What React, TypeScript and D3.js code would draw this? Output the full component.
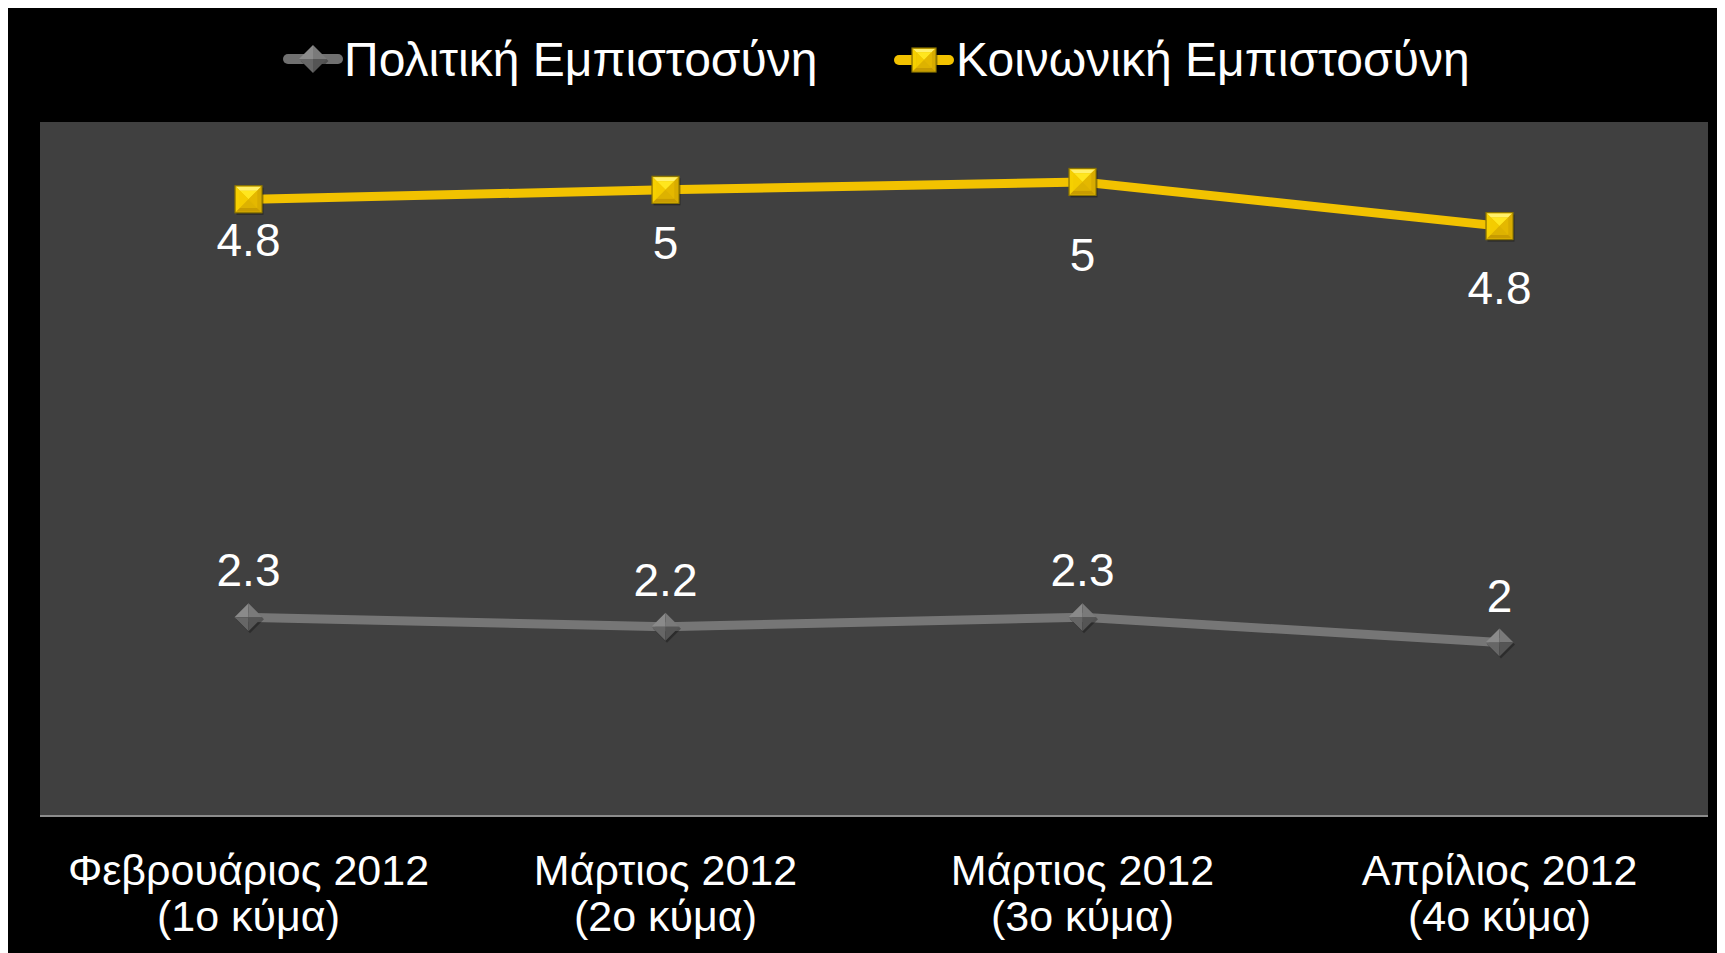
import React from "react";
import * as d3 from "d3";

const categoryMonths = ["Φεβρουάριος 2012", "Μάρτιος 2012", "Μάρτιος 2012", "Απρίλιος 2012"];
const categoryWaves = ["(1ο κύμα)", "(2ο κύμα)", "(3ο κύμα)", "(4ο κύμα)"];

const politicalName = "Πολιτική Εμπιστοσύνη";
const socialName = "Κοινωνική Εμπιστοσύνη";

const politicalValues = [2.26, 2.2, 2.26, 2.1];
const socialValues = [4.91, 4.97, 5.02, 4.74];

const politicalLabels = ["2.3", "2.2", "2.3", "2"];
const socialLabels = ["4.8", "5", "5", "4.8"];

// label placement (layout only)
const socialLabelDy = [57, 69, 89, 78];
const politicalLabelDy = [-31, -31, -31, -31];

const FONT = "'Liberation Sans', Arial, Helvetica, sans-serif";

const plot = { left: 40, right: 1708, top: 122, bottom: 816 };

function Square({ x, y, s }: { x: number; y: number; s: number }) {
  const h = s / 2;
  const i = s * 0.18;
  return (
    <g transform={`translate(${x},${y})`}>
      <rect x={-h + 1.5} y={-h + 2} width={s} height={s} fill="rgba(0,0,0,0.35)" />
      <rect x={-h} y={-h} width={s} height={s} fill="#E8BC00" stroke="#8a7400" strokeWidth={1.2} />
      <polygon points={`${-h + 1},${-h + 1} ${h - 1},${-h + 1} ${h - i},${-h + i} ${-h + i},${-h + i}`} fill="#FFF06A" />
      <polygon points={`${-h + 1},${-h + 1} ${-h + i},${-h + i} ${-h + i},${h - i} ${-h + 1},${h - 1}`} fill="#F6D000" />
      <polygon points={`${h - 1},${-h + 1} ${h - 1},${h - 1} ${h - i},${h - i} ${h - i},${-h + i}`} fill="#D8AC00" />
      <polygon points={`${-h + 1},${h - 1} ${h - 1},${h - 1} ${h - i},${h - i} ${-h + i},${h - i}`} fill="#C89C00" />
      <polygon points={`${-h + i},${-h + i} ${h - i},${-h + i} 0,0`} fill="#FFE61E" />
      <polygon points={`${-h + i},${-h + i} 0,0 ${-h + i},${h - i}`} fill="#F4CC00" />
      <polygon points={`${h - i},${-h + i} ${h - i},${h - i} 0,0`} fill="#E4B800" />
      <polygon points={`${-h + i},${h - i} ${h - i},${h - i} 0,0`} fill="#DDB200" />
    </g>
  );
}

function Diamond({ x, y, r }: { x: number; y: number; r: number }) {
  return (
    <g transform={`translate(${x},${y})`}>
      <polygon points={`1.5,${-r + 2} ${r + 1.5},2 1.5,${r + 2} ${-r + 1.5},2`} fill="rgba(0,0,0,0.3)" />
      <polygon points={`0,${-r} 0,0 ${-r},0`} fill="#8a8a8a" />
      <polygon points={`0,${-r} ${r},0 0,0`} fill="#7a7a7a" />
      <polygon points={`${-r},0 0,0 0,${r}`} fill="#666666" />
      <polygon points={`0,0 ${r},0 0,${r}`} fill="#555555" />
    </g>
  );
}

export default function App() {
  const idx = categoryMonths.map((_, i) => i);
  const x = d3.scalePoint<number>().domain(idx).range([plot.left, plot.right]).padding(0.5);
  const y = d3.scaleLinear().domain([1, 5.4]).range([plot.bottom, plot.top]);
  const line = d3
    .line<number>()
    .x((_, i) => x(i) as number)
    .y((d) => y(d));

  return (
    <svg width={1717} height={945} style={{ display: "block" }}>
      <g transform="translate(-8,-8)">
        <rect x={8} y={8} width={1717} height={945} fill="#000000" />
        <rect x={plot.left} y={plot.top} width={plot.right - plot.left} height={plot.bottom - plot.top} fill="#404040" />
        <line x1={plot.left} x2={plot.right} y1={plot.bottom} y2={plot.bottom} stroke="#8c8c8c" strokeWidth={2} />

        {/* legend */}
        <g>
          <line x1={288} x2={338} y1={59} y2={59} stroke="#707070" strokeWidth={10} strokeLinecap="round" />
          <Diamond x={313} y={59} r={14} />
          <text x={344} y={76} fill="#ffffff" fontFamily={FONT} fontSize={48}>
            {politicalName}
          </text>
          <line x1={899} x2={949} y1={60} y2={60} stroke="#F2C200" strokeWidth={10} strokeLinecap="round" />
          <Square x={924} y={60} s={24} />
          <text x={956} y={76} fill="#ffffff" fontFamily={FONT} fontSize={48}>
            {socialName}
          </text>
        </g>

        {/* series */}
        <path d={line(politicalValues) || ""} fill="none" stroke="#767676" strokeWidth={9} />
        <path d={line(socialValues) || ""} fill="none" stroke="#F2C200" strokeWidth={9} />

        {politicalValues.map((v, i) => (
          <Diamond key={`pd${i}`} x={x(i) as number} y={y(v)} r={14} />
        ))}
        {socialValues.map((v, i) => (
          <Square key={`sq${i}`} x={x(i) as number} y={y(v)} s={27} />
        ))}

        {politicalValues.map((v, i) => (
          <text key={`pl${i}`} x={x(i) as number} y={y(v) + politicalLabelDy[i]} textAnchor="middle" fill="#ffffff" fontFamily={FONT} fontSize={46}>
            {politicalLabels[i]}
          </text>
        ))}
        {socialValues.map((v, i) => (
          <text key={`sl${i}`} x={x(i) as number} y={y(v) + socialLabelDy[i]} textAnchor="middle" fill="#ffffff" fontFamily={FONT} fontSize={46}>
            {socialLabels[i]}
          </text>
        ))}

        {/* category axis labels */}
        {idx.map((i) => (
          <g key={`c${i}`}>
            <text x={x(i) as number} y={885} textAnchor="middle" fill="#ffffff" fontFamily={FONT} fontSize={43}>
              {categoryMonths[i]}
            </text>
            <text x={x(i) as number} y={931} textAnchor="middle" fill="#ffffff" fontFamily={FONT} fontSize={43}>
              {categoryWaves[i]}
            </text>
          </g>
        ))}
      </g>
    </svg>
  );
}
